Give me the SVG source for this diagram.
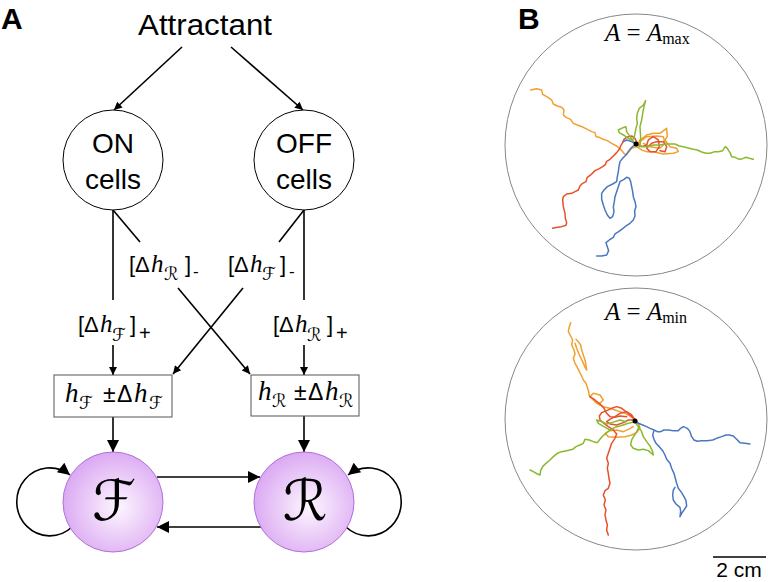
<svg xmlns="http://www.w3.org/2000/svg" width="768" height="582" viewBox="0 0 768 582">
<defs>
<style>
.t{font-family:"Liberation Sans",Arial,sans-serif;fill:#000}
.lbl{font-family:"Liberation Sans",Arial,sans-serif;font-weight:bold;font-size:30px}
.scr{font-family:"DejaVu Serif","DejaVu Sans",serif}
.hi{font-family:"Liberation Serif","Times New Roman",serif;font-style:italic}
.ln{stroke:#000;stroke-width:1.6;fill:none}
.tr{fill:none;stroke-width:4.5;stroke-linejoin:round;stroke-linecap:round}
.o{stroke:#f0a030}.r{stroke:#e8502a}.g{stroke:#8ab830}.b{stroke:#4a78c0}
.mt{font-family:"Liberation Serif","Times New Roman",serif;font-size:25px}
</style>
<marker id="as" viewBox="0 0 10 10" refX="10" refY="5" markerWidth="10" markerHeight="8" markerUnits="userSpaceOnUse" orient="auto"><path d="M0,0 L10,5 L0,10 z" fill="#000"/></marker>
<marker id="al" viewBox="0 0 10 10" refX="10" refY="5" markerWidth="15" markerHeight="12" markerUnits="userSpaceOnUse" orient="auto"><path d="M0,0 L10,5 L0,10 z" fill="#000"/></marker>
<radialGradient id="pg" cx="0.55" cy="0.55" r="0.6">
<stop offset="0" stop-color="#fdf6fe"/>
<stop offset="1" stop-color="#d9a4f2"/>
</radialGradient>
</defs>
<rect width="768" height="582" fill="#fff"/>
<text class="lbl" x="1" y="29">A</text>
<text class="lbl" x="518" y="29">B</text>

<g id="connectors">
<line class="ln" x1="182" y1="47" x2="114" y2="110" marker-end="url(#as)"/>
<line class="ln" x1="231" y1="47" x2="303" y2="110" marker-end="url(#as)"/>
<line class="ln" x1="113" y1="210" x2="113" y2="300"/>
<line class="ln" x1="113" y1="210" x2="140" y2="242"/>
<line class="ln" x1="304" y1="210" x2="304" y2="300"/>
<line class="ln" x1="304" y1="210" x2="279" y2="242"/>
<line class="ln" x1="178" y1="288" x2="250" y2="374" marker-end="url(#as)"/>
<line class="ln" x1="243" y1="288" x2="173" y2="374" marker-end="url(#as)"/>
<line class="ln" x1="113" y1="345" x2="113" y2="375" marker-end="url(#as)"/>
<line class="ln" x1="304" y1="345" x2="304" y2="375" marker-end="url(#as)"/>
<line class="ln" x1="113" y1="417" x2="113" y2="452" marker-end="url(#al)"/>
<line class="ln" x1="304" y1="416" x2="304" y2="452" marker-end="url(#al)"/>
<line class="ln" x1="157" y1="477" x2="260" y2="477" marker-end="url(#al)"/>
<line class="ln" x1="263" y1="527" x2="157" y2="527" marker-end="url(#al)"/>
<path class="ln" d="M72,527 A33,34 0 1 1 70,475" marker-end="url(#al)"/>
<path class="ln" d="M346,527 A33,34 0 1 0 348,475" marker-end="url(#al)"/>
</g>

<g id="attractant"><text class="t" x="205" y="35" font-size="29" text-anchor="middle" textLength="134" lengthAdjust="spacingAndGlyphs">Attractant</text></g>

<g id="on-cells">
<circle cx="113" cy="160" r="50" fill="#fff" stroke="#000" stroke-width="1"/>
<text class="t" x="113" y="153" font-size="28" text-anchor="middle">ON</text>
<text class="t" x="113" y="189" font-size="28" text-anchor="middle">cells</text>
</g>
<g id="off-cells">
<circle cx="304" cy="160" r="50" fill="#fff" stroke="#000" stroke-width="1"/>
<text class="t" x="304" y="153" font-size="28" text-anchor="middle">OFF</text>
<text class="t" x="304" y="189" font-size="28" text-anchor="middle">cells</text>
</g>

<g id="labels">
<text class="t" font-size="22"><tspan x="129" y="272">[Δ</tspan><tspan class="hi" x="151" y="272" font-size="25">h</tspan><tspan class="scr" x="164" y="280" font-size="18">ℛ</tspan><tspan x="185" y="272">]</tspan><tspan x="193" y="277" font-size="17">-</tspan></text>
<text class="t" font-size="22"><tspan x="228" y="272">[Δ</tspan><tspan class="hi" x="250" y="272" font-size="25">h</tspan><tspan class="scr" x="262" y="280" font-size="18">ℱ</tspan><tspan x="280" y="272">]</tspan><tspan x="289" y="277" font-size="17">-</tspan></text>
<text class="t" font-size="22"><tspan x="78" y="332">[Δ</tspan><tspan class="hi" x="100" y="332" font-size="25">h</tspan><tspan class="scr" x="112" y="341" font-size="18">ℱ</tspan><tspan x="130" y="332">]</tspan><tspan x="139" y="340" font-size="20">+</tspan></text>
<text class="t" font-size="22"><tspan x="273" y="332">[Δ</tspan><tspan class="hi" x="295" y="332" font-size="25">h</tspan><tspan class="scr" x="307" y="341" font-size="18">ℛ</tspan><tspan x="327" y="332">]</tspan><tspan x="336" y="340" font-size="20">+</tspan></text>
</g>

<g id="box-f">
<rect x="54" y="375" width="118" height="42" fill="#fff" stroke="#555" stroke-width="1"/>
<text class="t" font-size="23"><tspan class="hi" x="65" y="402" font-size="27">h</tspan><tspan class="scr" x="79" y="409" font-size="18">ℱ</tspan><tspan x="103" y="402">±</tspan><tspan x="117" y="402">Δ</tspan><tspan class="hi" x="134" y="402" font-size="27">h</tspan><tspan class="scr" x="149" y="409" font-size="18">ℱ</tspan></text>
</g>
<g id="box-r">
<rect x="251" y="375" width="108" height="41" fill="#fff" stroke="#555" stroke-width="1"/>
<text class="t" font-size="23"><tspan class="hi" x="258" y="400" font-size="27">h</tspan><tspan class="scr" x="272" y="407" font-size="18">ℛ</tspan><tspan x="294" y="400">±</tspan><tspan x="308" y="400">Δ</tspan><tspan class="hi" x="325" y="400" font-size="27">h</tspan><tspan class="scr" x="339" y="407" font-size="18">ℛ</tspan></text>
</g>

<g id="node-f">
<circle cx="113" cy="502" r="50" fill="url(#pg)" stroke="#b070d8" stroke-width="1"/>
<text class="scr" x="114" y="520" font-size="56" text-anchor="middle">ℱ</text>
</g>
<g id="node-r">
<circle cx="304" cy="502" r="50" fill="url(#pg)" stroke="#b070d8" stroke-width="1"/>
<text class="scr" x="305" y="520" font-size="56" text-anchor="middle">ℛ</text>
</g>

<g id="panel-b-top">
<circle cx="636" cy="145" r="131" fill="none" stroke="#888" stroke-width="1"/>
<text class="mt" x="605" y="41"><tspan font-style="italic">A</tspan> = <tspan font-style="italic">A</tspan><tspan font-size="16" dy="3">max</tspan></text>
<g transform="translate(500,0) scale(0.3333)">
<path class="tr o" d="M92,270 L110,266 L125,270 L128,283 L140,290 L155,300 L160,312 L172,318 L185,322 L192,330 L190,345 L198,352 L212,358 L220,370 L232,375 L250,382 L262,388 L275,395 L285,398 L288,410 L298,412 L310,418 L322,422 L335,430 L350,438 L362,448 L372,460 L378,465 L395,445 L410,440 L420,420 L440,405 L460,400 L480,400 L500,385 L502,410 L495,420 L510,440 L530,445 L535,455 L520,460 L490,462 L460,455 L440,455 L425,450 L410,440 L420,425 L440,410 L470,408 L490,410 L495,430 L480,445 L450,440 L430,430"/>
<path class="tr r" d="M158,685 L172,682 L185,680 L198,676 L200,668 L196,655 L195,640 L190,620 L188,600 L190,590 L200,582 L215,580 L225,575 L235,570 L240,558 L248,550 L258,545 L262,532 L272,525 L285,512 L298,506 L308,500 L316,494 L320,484 L330,478 L340,468 L350,458 L358,448 L362,438 L368,428 L372,418 L380,412 L395,408 L405,415 L412,430 L425,440 L440,435 L445,420 L460,410 L475,420 L478,440 L468,455 L450,455 L440,445 L455,430 L470,425 L490,425 L500,440 L495,455 L480,452"/>
<path class="tr g" d="M760,478 L748,475 L738,472 L728,476 L718,478 L705,472 L695,470 L690,458 L682,445 L676,440 L668,452 L655,455 L645,455 L630,460 L618,460 L605,456 L592,450 L580,448 L565,444 L550,440 L538,438 L525,432 L510,432 L495,432 L480,435 L460,435 L440,440 L425,440 L412,436"/>
<path class="tr g" d="M437,302 L430,315 L418,325 L412,340 L410,355 L412,370 L408,385 L405,400 L402,415 L395,420 L385,415 L370,405 L358,398 L355,390 L365,385 L378,380 L380,395 L392,412 L405,430 L420,440 L422,410 L420,380 L425,360 L428,340 L432,320 L437,302"/>
<path class="tr b" d="M290,768 L305,768 L320,765 L326,752 L322,740 L318,728 L328,720 L340,712 L345,702 L356,695 L368,686 L378,678 L390,670 L400,660 L405,648 L404,632 L408,620 L405,605 L400,590 L398,575 L395,560 L392,545 L388,535 L380,532 L372,538 L360,545 L355,560 L350,575 L345,590 L343,605 L340,620 L342,635 L338,650 L330,655 L322,645 L315,630 L310,615 L305,598 L305,580 L312,570 L322,560 L338,552 L350,545 L352,530 L355,515 L357,500 L360,485 L368,475 L378,465 L385,455 L392,445 L400,438 L408,432 L395,425 L380,420 L370,425"/>
</g>
<circle cx="636" cy="144" r="2.5" fill="#000"/>
</g>

<g id="panel-b-bottom">
<circle cx="636" cy="419" r="131" fill="none" stroke="#888" stroke-width="1"/>
<text class="mt" x="605" y="320"><tspan font-style="italic">A</tspan> = <tspan font-style="italic">A</tspan><tspan font-size="16" dy="3">min</tspan></text>
<g transform="translate(500,280) scale(0.3333)">
<path class="tr o" d="M212,128 L208,140 L205,155 L212,168 L218,180 L215,195 L222,210 L225,222 L220,235 L225,250 L232,262 L238,275 L245,288 L250,300 L258,310 L262,322 L266,335 L268,348 L275,355 L282,362 L290,370 L300,375 L315,382 L330,385 L345,390 L360,395 L375,400 L390,408 L405,418 L415,430 L420,445 L410,458 L395,465 L375,470 L350,472 L325,470 L315,460 L330,452 L350,450 L370,455 L385,448 L400,440"/>
<path class="tr o" d="M228,178 L235,185 L242,195 L245,210 L250,225 L255,240 L258,255 L260,270 L255,262 L248,245 L238,225 L230,205 L225,190"/>
<path class="tr o" d="M270,350 L280,340 L300,345 L310,360 L300,370 L285,365"/>
<path class="tr r" d="M325,765 L320,750 L322,735 L318,720 L315,705 L318,690 L312,675 L316,660 L310,645 L315,632 L325,625 L330,610 L327,595 L325,580 L322,565 L325,550 L320,535 L325,520 L330,505 L335,490 L345,475 L350,462 L340,450 L325,440 L312,430 L300,420 L298,408 L305,398 L320,392 L335,385 L350,380 L365,385 L378,395 L390,405 L400,415 L405,420 L395,405 L380,395 L360,400 L345,410 L330,418 L320,425 L330,432 L350,435 L370,428 L385,420 L400,420"/>
<path class="tr r" d="M270,350 L285,360 L300,372 L312,385 L320,400 L330,410 L345,412 L360,408 L380,410"/>
<path class="tr g" d="M90,570 L100,575 L112,582 L120,585 L122,572 L128,560 L138,550 L150,540 L160,530 L172,520 L185,515 L200,512 L218,508 L228,500 L240,495 L250,490 L255,478 L268,480 L280,485 L292,488 L300,478 L308,468 L318,460 L330,450 L345,442 L360,438 L378,432 L392,428 L405,426 L415,440 L425,455 L430,470 L440,485 L450,498 L458,515 L460,525 L445,512 L430,508 L415,510 L400,505 L392,495 L395,480 L402,468 L410,455 L418,440"/>
<path class="tr g" d="M330,450 L312,440 L295,430 L290,420 L305,425 L320,432 L345,425 L360,420 L378,425"/>
<path class="tr b" d="M750,492 L735,490 L720,488 L710,478 L700,468 L688,465 L678,465 L665,470 L650,475 L638,480 L622,482 L605,482 L592,484 L582,480 L575,470 L570,455 L562,445 L550,440 L542,445 L535,452 L520,452 L505,450 L492,450 L482,455 L472,455 L462,450 L450,445 L440,440 L428,435 L415,430 L408,426"/>
<path class="tr b" d="M462,452 L458,465 L462,478 L468,490 L478,500 L488,512 L495,525 L500,538 L510,550 L515,565 L522,580 L526,595 L530,610 L535,625 L545,638 L552,650 L558,662 L560,678 L552,690 L545,700 L540,710 L542,695 L540,682 L528,672 L520,660 L518,645 L520,630 L525,622"/>
</g>
<circle cx="635" cy="421" r="2.5" fill="#000"/>
</g>

<g id="scale-bar">
<line x1="713" y1="557" x2="766" y2="557" stroke="#000" stroke-width="1.5"/>
<text class="t" x="739" y="577" font-size="21" text-anchor="middle">2 cm</text>
</g>
</svg>
